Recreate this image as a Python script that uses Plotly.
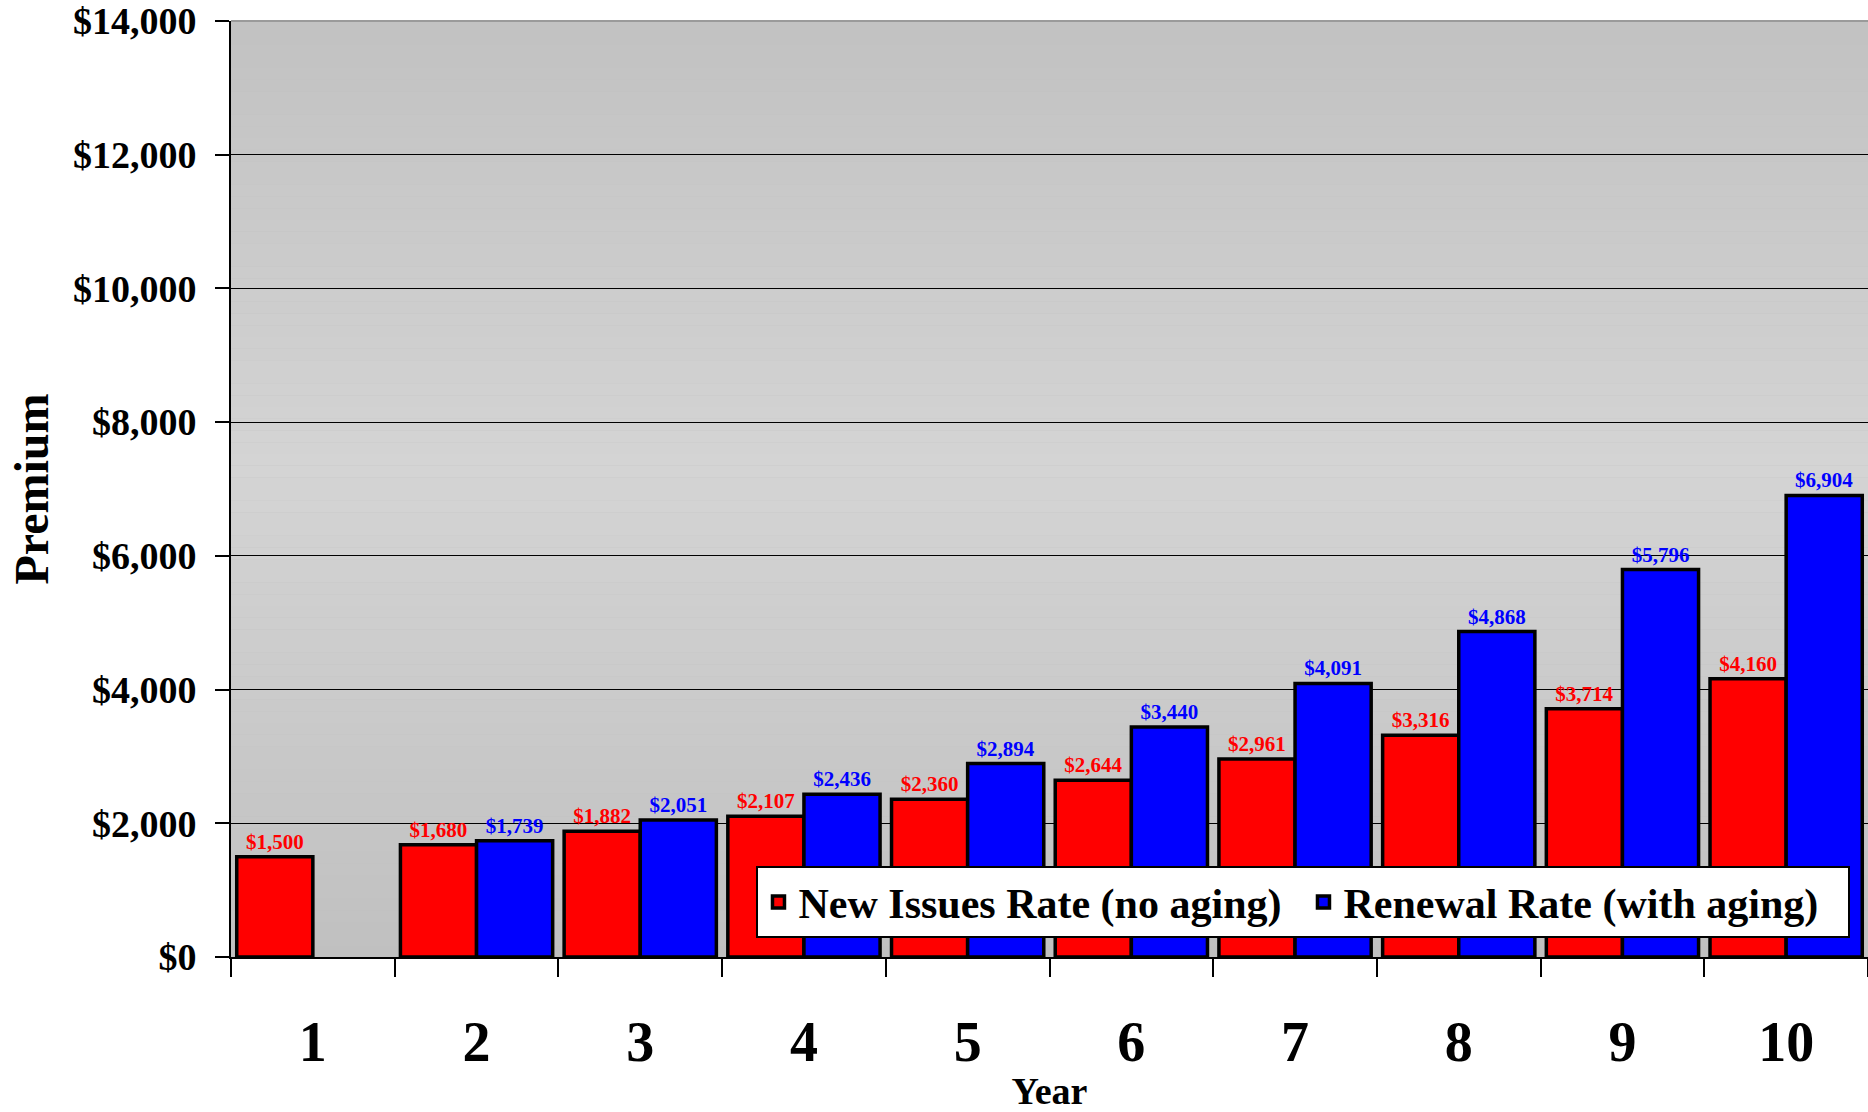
import plotly.graph_objects as go

# ---- data ----
years = ["1", "2", "3", "4", "5", "6", "7", "8", "9", "10"]
new_issues = [1500, 1680, 1882, 2107, 2360, 2644, 2961, 3316, 3714, 4160]
renewal = [None, 1739, 2051, 2436, 2894, 3440, 4091, 4868, 5796, 6904]
y_ticks = [0, 2000, 4000, 6000, 8000, 10000, 12000, 14000]

FONT = "Liberation Serif, Times New Roman, serif"
RED = "#ff0000"
BLUE = "#0000ff"

fig = go.Figure()
fig.add_trace(go.Bar(
    name="New Issues Rate (no aging)", x=years, y=new_issues,
    marker=dict(color=RED, line=dict(color="black", width=3.5)),
    texttemplate="%{y:$,.0f}", textposition="outside", cliponaxis=False,
    textfont=dict(family=FONT, size=21, color=RED, weight="bold"),
))
fig.add_trace(go.Bar(
    name="Renewal Rate (with aging)", x=years, y=renewal,
    marker=dict(color=BLUE, line=dict(color="black", width=3.5)),
    texttemplate="%{y:$,.0f}", textposition="outside", cliponaxis=False,
    textfont=dict(family=FONT, size=21, color=BLUE, weight="bold"),
))

# vertical gray gradient background (light in the middle)
shapes = []
N = 80
for i in range(N):
    t = (i + 0.5) / N
    v = int(round(0xc0 + (0xd4 - 0xc0) * (1 - abs(t - 0.52) / 0.52)))
    v = max(0xc0, min(0xd4, v))
    c = f"rgb({v},{v},{v})"
    shapes.append(dict(type="rect", xref="paper", yref="paper",
                       x0=0, x1=1, y0=i / N, y1=(i + 1) / N,
                       fillcolor=c, line=dict(width=0), layer="below"))
shapes.append(dict(type="line", xref="paper", yref="paper", x0=0, x1=1, y0=1, y1=1,
                   line=dict(color="#9a9a9a", width=2), layer="above"))
fig.update_layout(shapes=shapes)

fig.update_layout(
    width=1868, height=1112,
    margin=dict(l=231, r=0, t=21, b=155, autoexpand=False),
    paper_bgcolor="white", plot_bgcolor="#c0c0c0",
    barmode="group", bargap=0.07, bargroupgap=0,
    font=dict(family=FONT, color="black"),
    showlegend=True,
    legend=dict(
        orientation="h", x=0.321, y=0.097, xanchor="left", yanchor="top",
        bgcolor="white", bordercolor="black", borderwidth=2,
        font=dict(family=FONT, size=42, color="black", weight="bold"),
        itemwidth=30, tracegroupgap=0,
        entrywidth=500, entrywidthmode="pixels",
    ),
    xaxis=dict(
        type="category", categoryorder="array", categoryarray=years,
        showline=True, linecolor="black", linewidth=2,
        ticks="outside", tickson="boundaries", ticklen=18, tickcolor="black", tickwidth=2,
        showgrid=False,
        tickfont=dict(family=FONT, size=56, color="black", weight="bold"),
        ticklabelstandoff=35,
        title=dict(text="Year", font=dict(family=FONT, size=38, color="black", weight="bold"),
                   standoff=19),
    ),
    yaxis=dict(
        range=[0, 14000], tickvals=y_ticks, tickformat="$,.0f",
        showline=True, linecolor="black", linewidth=2,
        ticks="outside", ticklen=14, tickcolor="black", tickwidth=2,
        showgrid=True, gridcolor="black", gridwidth=1,
        zeroline=False,
        tickfont=dict(family=FONT, size=38, color="black", weight="bold"),
        ticklabelstandoff=11,
        title=dict(text="Premium", font=dict(family=FONT, size=48, color="black", weight="bold"),
                   standoff=9),
    ),
)

fig.write_html("out.html", config={"displayModeBar": False},
               post_script="document.body.style.margin='0px';")
